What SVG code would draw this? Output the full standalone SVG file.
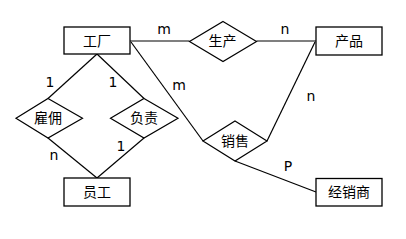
<svg xmlns="http://www.w3.org/2000/svg" width="406" height="239" viewBox="0 0 406 239">
<style>
.box{fill:#fff;stroke:#000;stroke-width:1.3}
.dia{fill:#fff;stroke:#000;stroke-width:1.2}
.ln{stroke:#000;stroke-width:1.2;fill:none}
text{font-family:"DejaVu Sans","Noto Sans CJK SC",sans-serif;font-size:14px;text-anchor:middle;dominant-baseline:central;fill:#000}
</style>
<rect width="406" height="239" fill="#fff"/>
<g id="connectors">
<line class="ln" x1="130" y1="41" x2="189.5" y2="41"/>
<line class="ln" x1="256.5" y1="41" x2="316" y2="41"/>
<line class="ln" x1="97" y1="54" x2="48" y2="98.5"/>
<line class="ln" x1="97" y1="54" x2="144" y2="98.5"/>
<line class="ln" x1="48" y1="138" x2="97" y2="178"/>
<line class="ln" x1="144" y1="138" x2="97" y2="178"/>
<line class="ln" x1="131" y1="42" x2="203" y2="141"/>
<line class="ln" x1="315" y1="42" x2="267" y2="141"/>
<line class="ln" x1="235" y1="161" x2="316" y2="192"/>
</g>
<g id="labels">
<text x="164" y="29">m</text>
<text x="285" y="29">n</text>
<text x="50" y="82">1</text>
<text x="113" y="82">1</text>
<text x="179" y="85">m</text>
<text x="311" y="96">n</text>
<text x="54" y="155">n</text>
<text x="121" y="146">1</text>
<text x="288" y="166">P</text>
</g>
<g id="gongchang"><rect class="box" x="64" y="27" width="66" height="27"/><text x="97" y="41">工厂</text></g>
<g id="chanpin"><rect class="box" x="316" y="27" width="66" height="28"/><text x="349" y="41">产品</text></g>
<g id="yuangong"><rect class="box" x="64" y="178" width="66" height="28"/><text x="97" y="192">员工</text></g>
<g id="jingxiaoshang"><rect class="box" x="316" y="178.5" width="66" height="27.5"/><text x="349" y="192">经销商</text></g>
<g id="shengchan"><polygon class="dia" points="223,21.5 256.5,41.5 223,61.5 189.5,41.5"/><text x="222.5" y="41">生产</text></g>
<g id="guyong"><polygon class="dia" points="48,98.5 82.5,118.3 48,138 16,118.3"/><text x="48" y="118">雇佣</text></g>
<g id="fuze"><polygon class="dia" points="144,98.5 178,118.3 144,138 110.5,118.3"/><text x="144" y="118">负责</text></g>
<g id="xiaoshou"><polygon class="dia" points="235,121 267,141 235,161 203,141"/><text x="235" y="141">销售</text></g>
</svg>
